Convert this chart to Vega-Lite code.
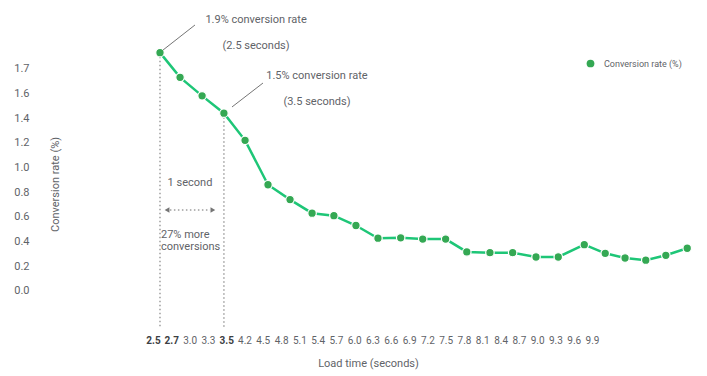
{
  "$schema": "https://vega.github.io/schema/vega-lite/v6.json",
  "width": 560,
  "height": 284,
  "autosize": {"type": "none"},
  "padding": {"left": 140, "top": 44, "right": 7, "bottom": 48},
  "background": "white",
  "config": {
    "view": {"stroke": null},
    "font": "Roboto",
    "axis": {"grid": false, "domain": false, "ticks": false, "tickSize": 0, "labelColor": "#5f6368", "titleColor": "#5f6368", "titleFontWeight": "normal", "labelFlush": false, "labelBound": false, "labelOverlap": {"expr": "false"}},
    "text": {"font": "Roboto", "color": "#5f6368", "fontSize": 11}
  },
  "data": {
    "values": [
      {"pos": 0, "rate": 1.93},
      {"pos": 0.91, "rate": 1.73},
      {"pos": 1.91, "rate": 1.58},
      {"pos": 2.9, "rate": 1.44},
      {"pos": 3.86, "rate": 1.22},
      {"pos": 4.9, "rate": 0.86},
      {"pos": 5.9, "rate": 0.74},
      {"pos": 6.9, "rate": 0.63},
      {"pos": 7.89, "rate": 0.61},
      {"pos": 8.89, "rate": 0.53},
      {"pos": 9.89, "rate": 0.427},
      {"pos": 10.92, "rate": 0.43},
      {"pos": 11.92, "rate": 0.42},
      {"pos": 12.96, "rate": 0.42},
      {"pos": 13.92, "rate": 0.316},
      {"pos": 14.97, "rate": 0.31},
      {"pos": 16.0, "rate": 0.31},
      {"pos": 17.06, "rate": 0.275},
      {"pos": 18.07, "rate": 0.275},
      {"pos": 19.25, "rate": 0.375},
      {"pos": 20.2, "rate": 0.305},
      {"pos": 21.1, "rate": 0.267},
      {"pos": 22.04, "rate": 0.249},
      {"pos": 22.95, "rate": 0.289},
      {"pos": 23.92, "rate": 0.346}
    ]
  },
  "layer": [
    {
      "mark": {"type": "line", "color": "#1ec677", "strokeWidth": 2.5},
      "encoding": {
        "x": {
          "field": "pos", "type": "quantitative",
          "scale": {"domain": [-0.907, 24.5], "nice": false, "zero": false},
          "axis": {
            "orient": "bottom",
            "values": [-0.317, 0.513, 1.343, 2.173, 3.003, 3.833, 4.663, 5.493, 6.322, 7.152, 7.982, 8.812, 9.642, 10.472, 11.302, 12.132, 12.962, 13.792, 14.622, 15.452, 16.281, 17.111, 17.941, 18.771, 19.601],
            "tickCount": 100,
            "labelExpr": "['2.5','2.7','3.0','3.3','3.5','4.2','4.5','4.8','5.1','5.4','5.7','6.0','6.3','6.6','6.9','7.2','7.5','7.8','8.1','8.4','8.7','9.0','9.3','9.6','9.9'][round((datum.value + 0.317) / 0.8299)]",
            "labelAngle": 0,
            "labelFontSize": 10,
            "labelPadding": 7,
            "labelOverlap": {"expr": "false"},
            "labelFontWeight": {"condition": {"test": "datum.value < 0.6 || (datum.value > 2.9 && datum.value < 3.1)", "value": "bold"}, "value": "normal"},
            "labelColor": {"condition": {"test": "datum.value < 0.6 || (datum.value > 2.9 && datum.value < 3.1)", "value": "#3c4043"}, "value": "#5f6368"},
            "title": "Load time (seconds)",
            "titleFontSize": 11,
            "titleX": 228,
            "titleY": 35,
            "titleAlign": "center",
            "titleBaseline": "middle"
          }
        },
        "y": {
          "field": "rate", "type": "quantitative",
          "scale": {"domain": [-0.3, 2.0], "nice": false, "zero": false},
          "axis": {
            "orient": "left",
            "values": [0, 0.2, 0.4, 0.6, 0.8, 1.0, 1.2, 1.4, 1.6, 1.8],
            "tickCount": 100,
            "labelExpr": "datum.value > 1.75 ? '1.7' : format(datum.value, '.1f')",
            "labelFontSize": 11,
            "labelPadding": 111,
            "labelOverlap": {"expr": "false"},
            "title": "Conversion rate (%)",
            "titleFontSize": 11,
            "titleX": -85,
            "titleY": 140,
            "titleAngle": -90,
            "titleAlign": "center",
            "titleBaseline": "middle"
          }
        }
      }
    },
    {
      "transform": [{"filter": "datum.pos == 0 || datum.pos == 2.9"}],
      "mark": {"type": "rule", "color": "#9e9e9e", "strokeDash": [1.5, 2.5], "strokeWidth": 1.5},
      "encoding": {
        "x": {"field": "pos", "type": "quantitative"},
        "y": {"field": "rate", "type": "quantitative"},
        "y2": {"datum": -0.29}
      }
    },
    {
      "mark": {"type": "circle", "size": 72, "opacity": 1, "stroke": "white", "strokeWidth": 1.2},
      "encoding": {
        "x": {"field": "pos", "type": "quantitative"},
        "y": {"field": "rate", "type": "quantitative"},
        "color": {
          "datum": "Conversion rate (%)", "type": "nominal",
          "scale": {"range": ["#34a853"]},
          "legend": {"orient": "none", "legendX": 446, "legendY": 15, "title": null, "padding": 0, "labelFontSize": 9, "labelColor": "#5f6368", "labelOffset": 9, "symbolSize": 60, "symbolType": "circle", "symbolStrokeWidth": 0, "symbolOpacity": 1}
        }
      }
    },
    {
      "data": {"values": [{}]},
      "mark": {"type": "text", "text": ["1.9% conversion rate", "(2.5 seconds)"], "align": "center", "baseline": "middle", "lineHeight": 26},
      "encoding": {"x": {"datum": 4.36, "type": "quantitative"}, "y": {"datum": 2.194, "type": "quantitative"}}
    },
    {
      "data": {"values": [{}]},
      "mark": {"type": "text", "text": ["1.5% conversion rate", "(3.5 seconds)"], "align": "center", "baseline": "middle", "lineHeight": 26},
      "encoding": {"x": {"datum": 7.12, "type": "quantitative"}, "y": {"datum": 1.741, "type": "quantitative"}}
    },
    {
      "data": {"values": [{}]},
      "mark": {"type": "text", "text": "1 second", "align": "center", "baseline": "middle"},
      "encoding": {"x": {"datum": 1.36, "type": "quantitative"}, "y": {"datum": 0.875, "type": "quantitative"}}
    },
    {
      "data": {"values": [{}]},
      "mark": {"type": "text", "text": ["27% more", "conversions"], "align": "left", "baseline": "middle", "lineHeight": 12},
      "encoding": {"x": {"datum": 0.045, "type": "quantitative"}, "y": {"datum": 0.453, "type": "quantitative"}}
    },
    {
      "data": {"values": [{}]},
      "mark": {"type": "rule", "color": "#757575", "strokeWidth": 1},
      "encoding": {"x": {"datum": 0.136, "type": "quantitative"}, "y": {"datum": 1.951, "type": "quantitative"}, "x2": {"datum": 1.588}, "y2": {"datum": 2.154}}
    },
    {
      "data": {"values": [{}]},
      "mark": {"type": "rule", "color": "#757575", "strokeWidth": 1},
      "encoding": {"x": {"datum": 3.267, "type": "quantitative"}, "y": {"datum": 1.49, "type": "quantitative"}, "x2": {"datum": 4.673}, "y2": {"datum": 1.684}}
    },
    {
      "data": {"values": [{}]},
      "mark": {"type": "rule", "color": "#9e9e9e", "strokeWidth": 1.5, "strokeDash": [1.5, 2.5]},
      "encoding": {"x": {"datum": 0.45, "type": "quantitative"}, "x2": {"datum": 2.27}, "y": {"datum": 0.656, "type": "quantitative"}}
    },
    {
      "data": {"values": [{}]},
      "mark": {"type": "point", "shape": "triangle-left", "filled": true, "size": 30, "color": "#757575", "opacity": 1},
      "encoding": {"x": {"datum": 0.32, "type": "quantitative"}, "y": {"datum": 0.656, "type": "quantitative"}}
    },
    {
      "data": {"values": [{}]},
      "mark": {"type": "point", "shape": "triangle-right", "filled": true, "size": 30, "color": "#757575", "opacity": 1},
      "encoding": {"x": {"datum": 2.4, "type": "quantitative"}, "y": {"datum": 0.656, "type": "quantitative"}}
    }
  ]
}
